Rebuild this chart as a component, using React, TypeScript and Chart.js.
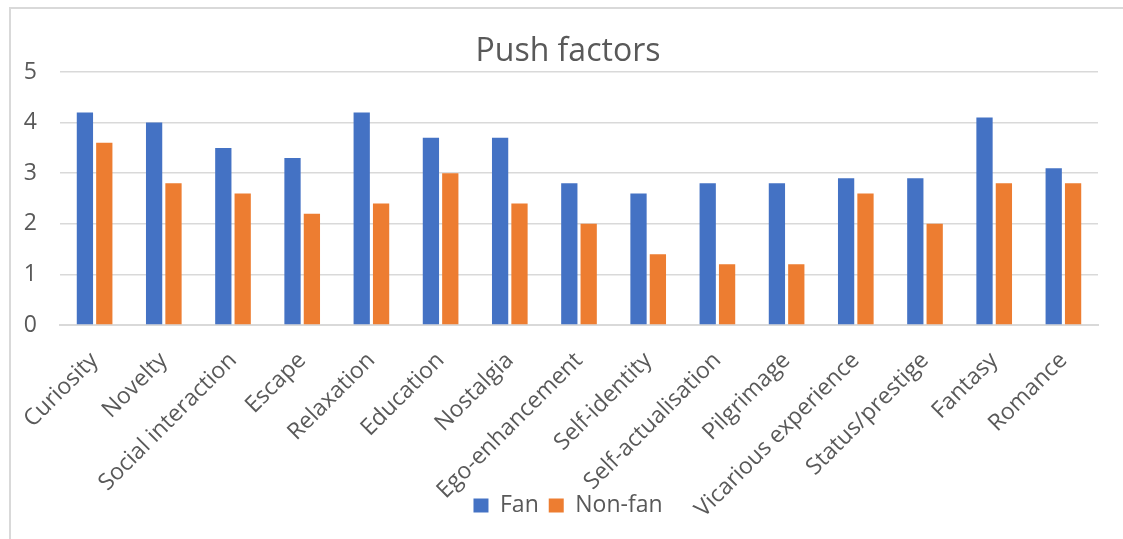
import React, { useEffect, useRef } from "react";
import { Chart, registerables } from "chart.js";

Chart.register(...registerables);

const categories = [
  "Curiosity",
  "Novelty",
  "Social interaction",
  "Escape",
  "Relaxation",
  "Education",
  "Nostalgia",
  "Ego-enhancement",
  "Self-identity",
  "Self-actualisation",
  "Pilgrimage",
  "Vicarious experience",
  "Status/prestige",
  "Fantasy",
  "Romance",
];
const fanValues = [4.2, 4.0, 3.5, 3.3, 4.2, 3.7, 3.7, 2.8, 2.6, 2.8, 2.8, 2.9, 2.9, 4.1, 3.1];
const nonFanValues = [3.6, 2.8, 2.6, 2.2, 2.4, 3.0, 2.4, 2.0, 1.4, 1.2, 1.2, 2.6, 2.0, 2.8, 2.8];
const seriesNames = ["Fan", "Non-fan"];
const titleText = "Push factors";

const FONT = "'Open Sans', 'Noto Sans', sans-serif";
const TEXT = "#595959";
const GRID = "#d9d9d9";

const borderPlugin = {
  id: "outerBorder",
  afterLayout(chart: any) {
    // let rotated x labels run past the axis box (over the legend), as in the original
    const x = chart.scales.x;
    if (x) x.bottom = chart.height;
    const y = chart.scales.y;
    if (y) y.left = 0;
  },
  beforeDraw(chart: any) {
    const ctx = chart.ctx;
    ctx.save();
    ctx.strokeStyle = GRID;
    ctx.lineWidth = 2;
    ctx.beginPath();
    ctx.moveTo(10, chart.height);
    ctx.lineTo(10, 8);
    ctx.lineTo(chart.width, 8);
    ctx.stroke();
    ctx.restore();
  },
};

export default function App() {
  const ref = useRef<HTMLCanvasElement | null>(null);
  useEffect(() => {
    if (!ref.current) return;
    const chart = new Chart(ref.current, {
      type: "bar",
      data: {
        labels: categories,
        datasets: [
          {
            label: seriesNames[0],
            data: fanValues,
            backgroundColor: "#4472C4",
            categoryPercentage: 0.56,
            barPercentage: 0.84,
          },
          {
            label: seriesNames[1],
            data: nonFanValues,
            backgroundColor: "#ED7D31",
            categoryPercentage: 0.56,
            barPercentage: 0.84,
          },
        ],
      },
      options: {
        animation: false,
        responsive: true,
        maintainAspectRatio: false,
        layout: { padding: { top: 34.5, left: 38, right: 25, bottom: 12 } },
        plugins: {
          title: {
            display: true,
            text: titleText,
            color: TEXT,
            font: { family: FONT, size: 32, weight: "normal", lineHeight: 1.1 },
            padding: { top: 0, bottom: 2.3 },
          },
          legend: {
            position: "bottom",
            labels: {
              color: TEXT,
              font: { family: FONT, size: 23 },
              boxWidth: 15,
              boxHeight: 14,
              padding: 10,
            },
          },
          tooltip: { enabled: false },
        },
        scales: {
          x: {
            grid: { display: false, drawTicks: false },
            border: { display: true, color: GRID, width: 2 },
            ticks: {
              color: TEXT,
              font: { family: FONT, size: 23 },
              minRotation: 45,
              maxRotation: 45,
              autoSkip: false,
              padding: 22,
            },
            afterFit(scale: any) {
              scale.height = 159;
            },
          },
          y: {
            min: 0,
            max: 5,
            ticks: {
              stepSize: 1,
              color: TEXT,
              font: { family: FONT, size: 23 },
              padding: 23,
            },
            grid: { color: GRID, lineWidth: 1.5, drawTicks: false },
            border: { display: false },
            afterFit(scale: any) {
              scale.width = 22;
            },
          },
        },
      },
      plugins: [borderPlugin],
    });
    return () => chart.destroy();
  }, []);
  return (
    <div style={{ position: "fixed", left: 0, top: 0, width: 1123, height: 539 }}>
      <canvas ref={ref} />
    </div>
  );
}
